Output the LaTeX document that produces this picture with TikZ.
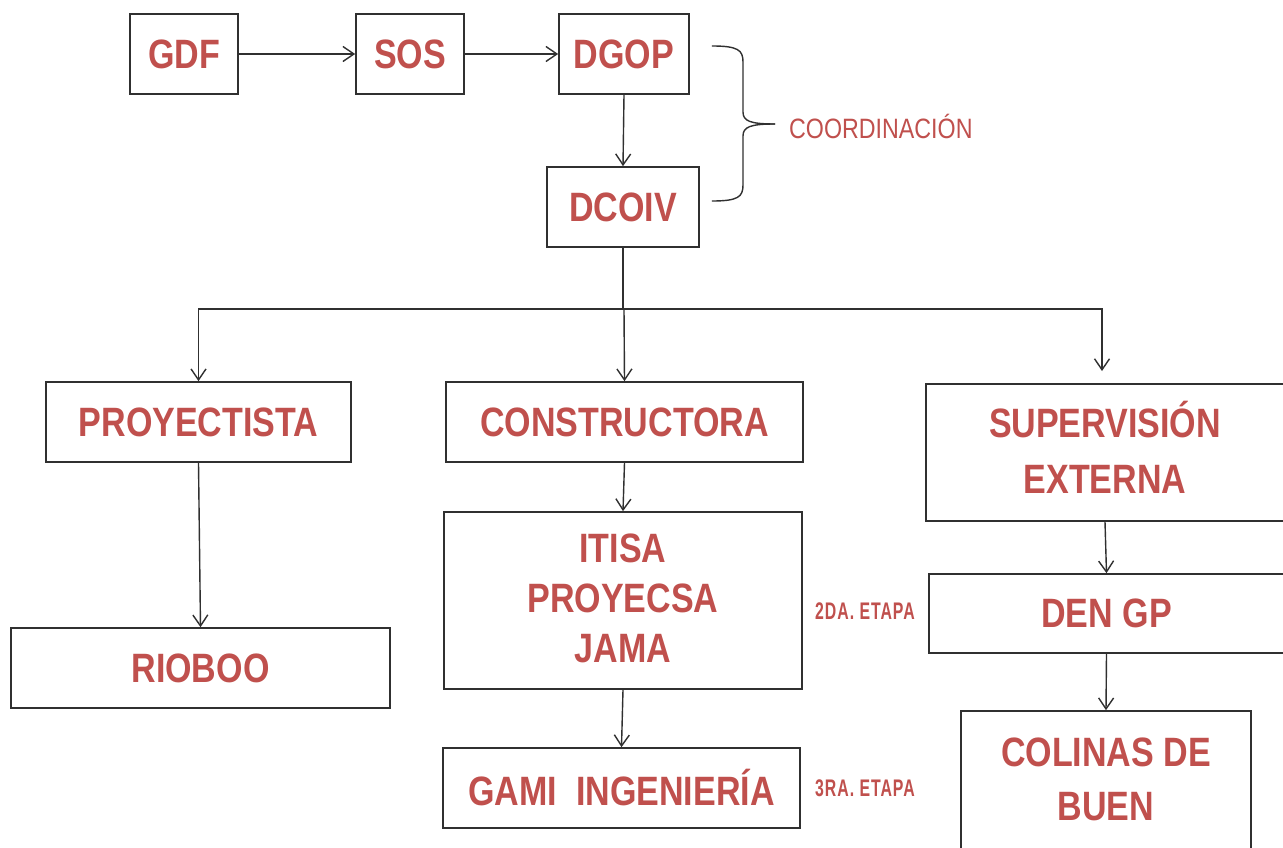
\documentclass[tikz,border=0pt]{standalone}
\usepackage{fontspec}
\setmainfont{Liberation Sans}
\newfontfamily\boxfont{Liberation Sans}[FakeStretch=0.83]
\newfontfamily\etfont{Liberation Sans}[FakeStretch=0.66,LetterSpace=4]
\usetikzlibrary{arrows.meta}
\definecolor{txtred}{HTML}{C0504D}
\definecolor{linegray}{HTML}{303030}
\tikzset{
  box/.style={draw=linegray, line width=1.7pt, rectangle, inner sep=0pt, align=center,
    text=txtred, font=\boxfont\bfseries\fontsize{41}{50}\selectfont},
  boxtext/.style={text=txtred, align=center, inner sep=0pt},
  conn/.style={draw=linegray, line width=1.4pt, -{Straight Barb[length=11pt,width=15pt,line width=1.4pt]}},
  plain/.style={draw=linegray, line width=1.4pt},
  etapa/.style={text=txtred, font=\etfont\bfseries\fontsize{24}{26}\selectfont, inner sep=0pt},
}
\begin{document}
\begin{tikzpicture}[x=1pt,y=-1pt]
\useasboundingbox (0,0) rectangle (1283,848);
\fill[white] (0,0) rectangle (1283,848);
% top row
\node[box, minimum width=108pt, minimum height=80pt] (gdf) at (184,54) {GDF};
\node[box, minimum width=108pt, minimum height=80pt] (sos) at (410,54) {SOS};
\node[box, minimum width=130pt, minimum height=80pt] (dgop) at (624,54) {DGOP};
\node[box, minimum width=152pt, minimum height=80pt] (dcoiv) at (623,207) {DCOIV};
% second row
\node[box, minimum width=305pt, minimum height=80pt] (proy) at (198.5,422) {PROYECTISTA};
\node[box, minimum width=357pt, minimum height=80pt] (cons) at (624.5,422) {CONSTRUCTORA};
\node[box, minimum width=358pt, minimum height=137pt] (sup) at (1105,452.5) {};
\node[boxtext, font=\boxfont\bfseries\fontsize{41}{56}\selectfont] (suptxt) at (1105,447) {SUPERVISIÓN\\EXTERNA};
% lower rows
\node[box, minimum width=379pt, minimum height=80pt] (rioboo) at (200.5,668) {RIOBOO};
\node[box, minimum width=358pt, minimum height=177pt] (itisa) at (623,600.5) {};
\node[boxtext, font=\boxfont\bfseries\fontsize{41}{50}\selectfont] (itisatxt) at (623,598) {ITISA\\PROYECSA\\JAMA};
\node[box, minimum width=357pt, minimum height=80pt] (gami) at (621.5,788) {GAMI\ \ INGENIERÍA};
\node[box, minimum width=355pt, minimum height=79pt] (den) at (1106.5,613.5) {DEN GP};
\node[box, minimum width=290pt, minimum height=160pt] (colinas) at (1106,791) {};
\node[boxtext, font=\boxfont\bfseries\fontsize{41}{54}\selectfont] (colinastxt) at (1106,779) {COLINAS DE\\BUEN};
% labels
\node[text=txtred, anchor=west, inner sep=0pt, font=\boxfont\fontsize{28}{30}\selectfont] (coord) at (789,126) {COORDINACIÓN};
\node[etapa, anchor=west] (et2) at (815,611) {2DA. ETAPA};
\node[etapa, anchor=west] (et3) at (815,788) {3RA. ETAPA};
% brace
\draw[plain] (dgop.east) ++(22,-8) coordinate (bt)
  .. controls (738,46) and (743,50) .. (743,62) -- (743,112)
  .. controls (743,121) and (750,124) .. (775,124);
\draw[plain] (dcoiv.east) ++(12,-6) coordinate (bb)
  .. controls (738,201) and (743,197) .. (743,185) -- (743,136)
  .. controls (743,127) and (750,124) .. (775,124);
% connectors
\draw[conn] (gdf.east) -- (sos.west);
\draw[conn] (sos.east) -- (dgop.west);
\draw[conn] (dgop.south) -- (dcoiv.south |- dcoiv.north);
\coordinate (junc) at (624,309);
\draw[plain] (dcoiv.south) -- (dcoiv.south |- junc);
\draw[conn] (junc) -| (proy.north);
\draw[conn] (junc) -- (cons.north);
\draw[conn, shorten >=13pt] (junc) -| (1102,384);
\draw[conn] (proy.south) -- (rioboo.north);
\draw[conn] (cons.south) -- (itisa.north);
\draw[conn] (itisa.south) -- (gami.north);
\draw[conn] (sup.south) -- (den.north);
\draw[conn] (den.south) -- (colinas.north);
\end{tikzpicture}
\end{document}
